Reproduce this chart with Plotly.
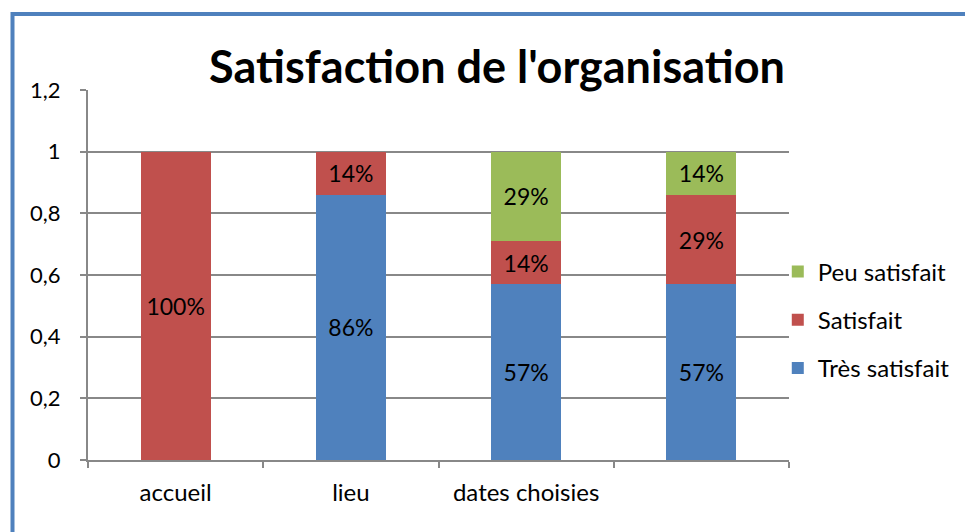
import plotly.graph_objects as go

categories = ["accueil", "lieu", "dates choisies", " "]
tres_satisfait = [None, 0.86, 0.57, 0.57]
satisfait = [1.0, 0.14, 0.14, 0.29]
peu_satisfait = [None, None, 0.29, 0.14]
y_ticks = [0, 0.2, 0.4, 0.6, 0.8, 1, 1.2]

FONT = "Lato"
series = [
    ("Très satisfait", tres_satisfait, "#4F81BD", 3),
    ("Satisfait", satisfait, "#C0504D", 2),
    ("Peu satisfait", peu_satisfait, "#9BBB59", 1),
]

fig = go.Figure()
for name, vals, color, rank in series:
    fig.add_trace(go.Bar(
        x=categories, y=vals, name=name, legendgroup=name, legendrank=rank,
        marker=dict(color=color, line=dict(width=0)),
        texttemplate="%{y:.0%}", textposition="inside",
        insidetextanchor="middle",
        textfont=dict(family=FONT, size=23, color="black"),
        constraintext="none",
    ))

# page body has an 8px margin: figure is offset by (8, 8)
W, H = 965, 524
fig.update_layout(
    width=W, height=H,
    barmode="stack", bargap=0.6,
    separators=", ",
    paper_bgcolor="white", plot_bgcolor="white",
    margin=dict(l=80, r=184, t=82, b=72),
    font=dict(family=FONT, size=22, color="black"),
    title=dict(text="<b>Satisfaction de l'organisation</b>",
               font=dict(family=FONT, size=45, color="black"),
               x=(497 - 8) / W, xanchor="center", y=1 - (67 - 8) / H, yanchor="middle"),
    legend=dict(x=0.984, xanchor="left", y=(460 - 320) / 370, yanchor="middle",
                traceorder="grouped", tracegroupgap=14,
                font=dict(family=FONT, size=24), itemwidth=30,
                bgcolor="rgba(0,0,0,0)"),
    showlegend=True,
)
fig.update_xaxes(
    showline=True, linecolor="#888888", linewidth=2,
    ticks="outside", tickson="boundaries", ticklen=6, tickcolor="#888888", tickwidth=2,
    tickfont=dict(family=FONT, size=24), ticklabelstandoff=10,
    showgrid=False,
)
fig.update_yaxes(
    range=[0, 1.2], tickvals=y_ticks,
    showline=True, linecolor="#888888", linewidth=2,
    ticks="outside", ticklen=6, tickcolor="#888888", tickwidth=2,
    showgrid=True, gridcolor="#888888", gridwidth=2,
    tickfont=dict(family=FONT, size=22), ticklabelstandoff=15,
    zeroline=False,
)
# chart frame
fig.add_shape(type="rect", xref="paper", yref="paper",
              x0=(12.5 - 88) / 701, x1=(1010 - 88) / 701,
              y0=(460 - 560) / 370, y1=(460 - 14) / 370,
              line=dict(color="#4F81BD", width=4), fillcolor="rgba(0,0,0,0)")

fig.write_html("out.html")
